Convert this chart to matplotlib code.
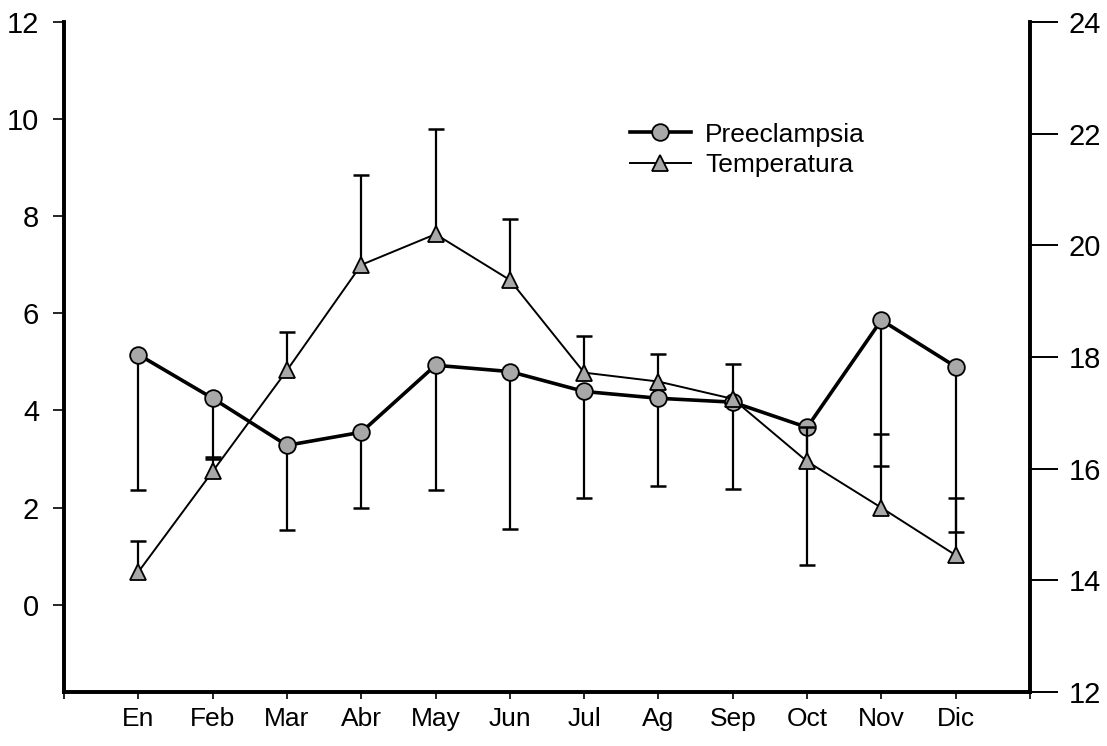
import numpy as np
import matplotlib
matplotlib.use('Agg')
import matplotlib.pyplot as plt

plt.rcParams['font.family'] = ['Liberation Sans', 'DejaVu Sans']

# datos
meses = ['En', 'Feb', 'Mar', 'Abr', 'May', 'Jun', 'Jul', 'Ag', 'Sep', 'Oct', 'Nov', 'Dic']
preec = [5.15, 4.25, 3.28, 3.55, 4.93, 4.80, 4.39, 4.25, 4.17, 3.65, 5.86, 4.90]
preec_min = [2.37, 3.00, 1.53, 2.00, 2.37, 1.55, 2.19, 2.45, 2.39, 0.82, 2.85, 1.50]
temp = [14.15, 15.95, 17.76, 19.65, 20.20, 19.38, 17.72, 17.56, 17.25, 16.13, 15.30, 14.45]
temp_max = [14.71, 16.20, 18.44, 21.26, 22.09, 20.48, 18.37, 18.05, 17.88, 16.75, 16.62, 15.48]

x = np.arange(1, len(meses) + 1)

fig = plt.figure(figsize=(11.07, 7.46), dpi=100)
ax = fig.add_axes([64/1107, 1 - 692/746, (1030-64)/1107, (692-22)/746])
ax2 = ax.twinx()

# barras de error de un solo lado (hacia abajo preeclampsia, hacia arriba temperatura)
ax.vlines(x, preec_min, preec, color='black', lw=1.6, zorder=1)
ax.plot(x, preec_min, ls='none', marker='_', ms=12, mew=1.8, color='black', zorder=1)
ax2.vlines(x, temp, temp_max, color='black', lw=1.6, zorder=1)
ax2.plot(x, temp_max, ls='none', marker='_', ms=12, mew=1.8, color='black', zorder=1)

l1, = ax.plot(x, preec, color='black', lw=2.6, marker='o', ms=12,
              mfc='#a8a8a8', mec='black', mew=1.3, zorder=3, label='Preeclampsia')
l2, = ax2.plot(x, temp, color='black', lw=1.4, marker='^', ms=11,
               mfc='#a8a8a8', mec='black', mew=1.3, zorder=3, label='Temperatura')

ax.set_xlim(0, 13)
ax.set_ylim(-1.8, 12)
ax2.set_ylim(12, 24)

ax.set_yticks(np.arange(0, 13, 2))
ax2.set_yticks(np.arange(12, 25, 2))
ax.set_xticks(np.arange(0, 14))
ax.set_xticklabels([''] + meses + [''])

for a in (ax, ax2):
    a.spines['top'].set_visible(False)
    for s in ('left', 'right', 'bottom'):
        a.spines[s].set_linewidth(2.6)

ax.tick_params(axis='y', direction='out', length=8, width=1.2, labelsize=21, pad=10)
ax2.tick_params(axis='y', direction='out', length=20, width=1.4, labelsize=21, pad=8)
ax.tick_params(axis='x', direction='out', length=5, width=1.2, labelsize=19, pad=6)

ax2.legend([l1, l2], ['Preeclampsia', 'Temperatura'], loc='center left', frameon=False,
           fontsize=19, bbox_to_anchor=(630/1107, 1 - 150/746), bbox_transform=fig.transFigure,
           borderpad=0, borderaxespad=0, handlelength=2.3, handletextpad=0.55,
           labelspacing=0.25)

fig.savefig('out.png', dpi=100)
